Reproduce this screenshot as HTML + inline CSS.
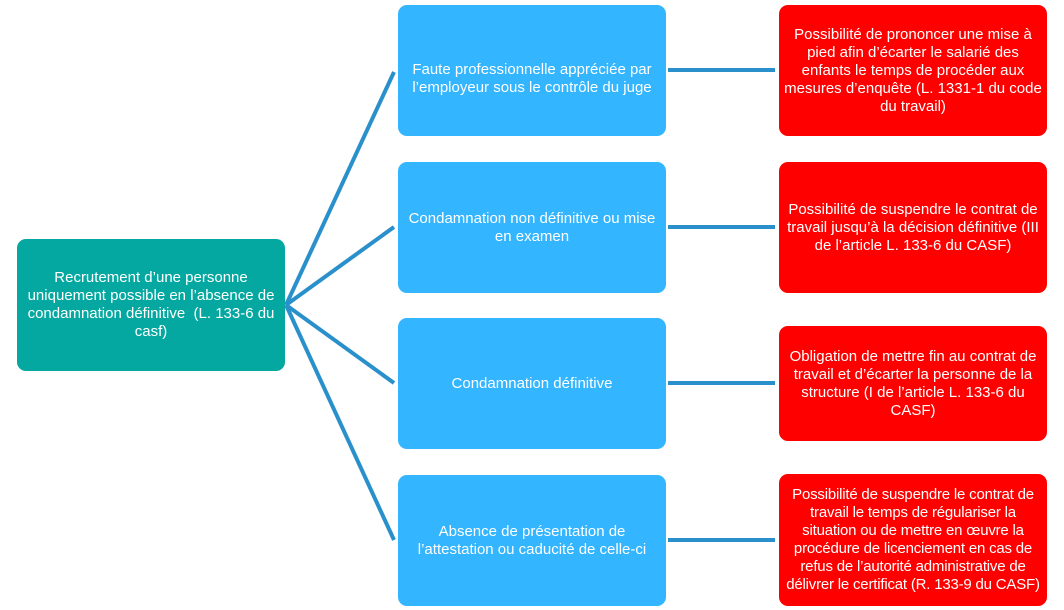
<!DOCTYPE html>
<html><head><meta charset="utf-8"><style>
body{margin:0;width:1064px;height:610px;background:#fff;position:relative;overflow:hidden;font-family:"Liberation Sans",sans-serif;}
.b{position:absolute;display:flex;align-items:center;justify-content:center;text-align:center;color:#fff;font-size:15px;letter-spacing:0;line-height:18px;border-radius:9px;box-sizing:border-box;white-space:nowrap;}
.t{background:#05A8A0;}
.u{background:#33B5FF;}
.r{background:#FF0000;}
svg{position:absolute;left:0;top:0;}
</style></head><body>
<svg width="1064" height="610"><g stroke="#2A90CC" stroke-width="4" fill="none">
<line x1="286" y1="305" x2="394" y2="72"/>
<line x1="286" y1="305" x2="394" y2="227"/>
<line x1="286" y1="305" x2="394" y2="383"/>
<line x1="286" y1="305" x2="394" y2="540"/>
<line x1="668" y1="70" x2="775" y2="70"/>
<line x1="668" y1="227" x2="775" y2="227"/>
<line x1="668" y1="383" x2="775" y2="383"/>
<line x1="668" y1="540" x2="775" y2="540"/>
</g></svg>
<div class="b t" style="left:17px;top:239px;width:268px;height:132px;">Recrutement d’une personne<br>uniquement possible en l’absence de<br>condamnation définitive&nbsp; (L. 133-6 du<br>casf)</div>
<div class="b u" style="left:398px;top:5px;width:268px;height:131px;align-items:flex-start;padding-top:56px;">Faute professionnelle appréciée par<br>l’employeur sous le contrôle du juge</div>
<div class="b u" style="left:398px;top:162px;width:268px;height:131px;">Condamnation non définitive ou mise<br>en examen</div>
<div class="b u" style="left:398px;top:318px;width:268px;height:131px;">Condamnation définitive</div>
<div class="b u" style="left:398px;top:475px;width:268px;height:131px;">Absence de présentation de<br>l’attestation ou caducité de celle-ci</div>
<div class="b r" style="left:779px;top:5px;width:268px;height:131px;">Possibilité de prononcer une mise à<br>pied afin d’écarter le salarié des<br>enfants le temps de procéder aux<br>mesures d’enquête (L. 1331-1 du code<br>du travail)</div>
<div class="b r" style="left:779px;top:162px;width:268px;height:131px;">Possibilité de suspendre le contrat de<br>travail jusqu’à la décision définitive (III<br>de l’article L. 133-6 du CASF)</div>
<div class="b r" style="left:779px;top:326px;width:268px;height:115px;">Obligation de mettre fin au contrat de<br>travail et d’écarter la personne de la<br>structure (I de l’article L. 133-6 du<br>CASF)</div>
<div class="b r" style="left:779px;top:474px;width:268px;height:132px;letter-spacing:-0.2px;">Possibilité de suspendre le contrat de<br>travail le temps de régulariser la<br>situation ou de mettre en œuvre la<br>procédure de licenciement en cas de<br>refus de l’autorité administrative de<br>délivrer le certificat (R. 133-9 du CASF)</div>
</body></html>
